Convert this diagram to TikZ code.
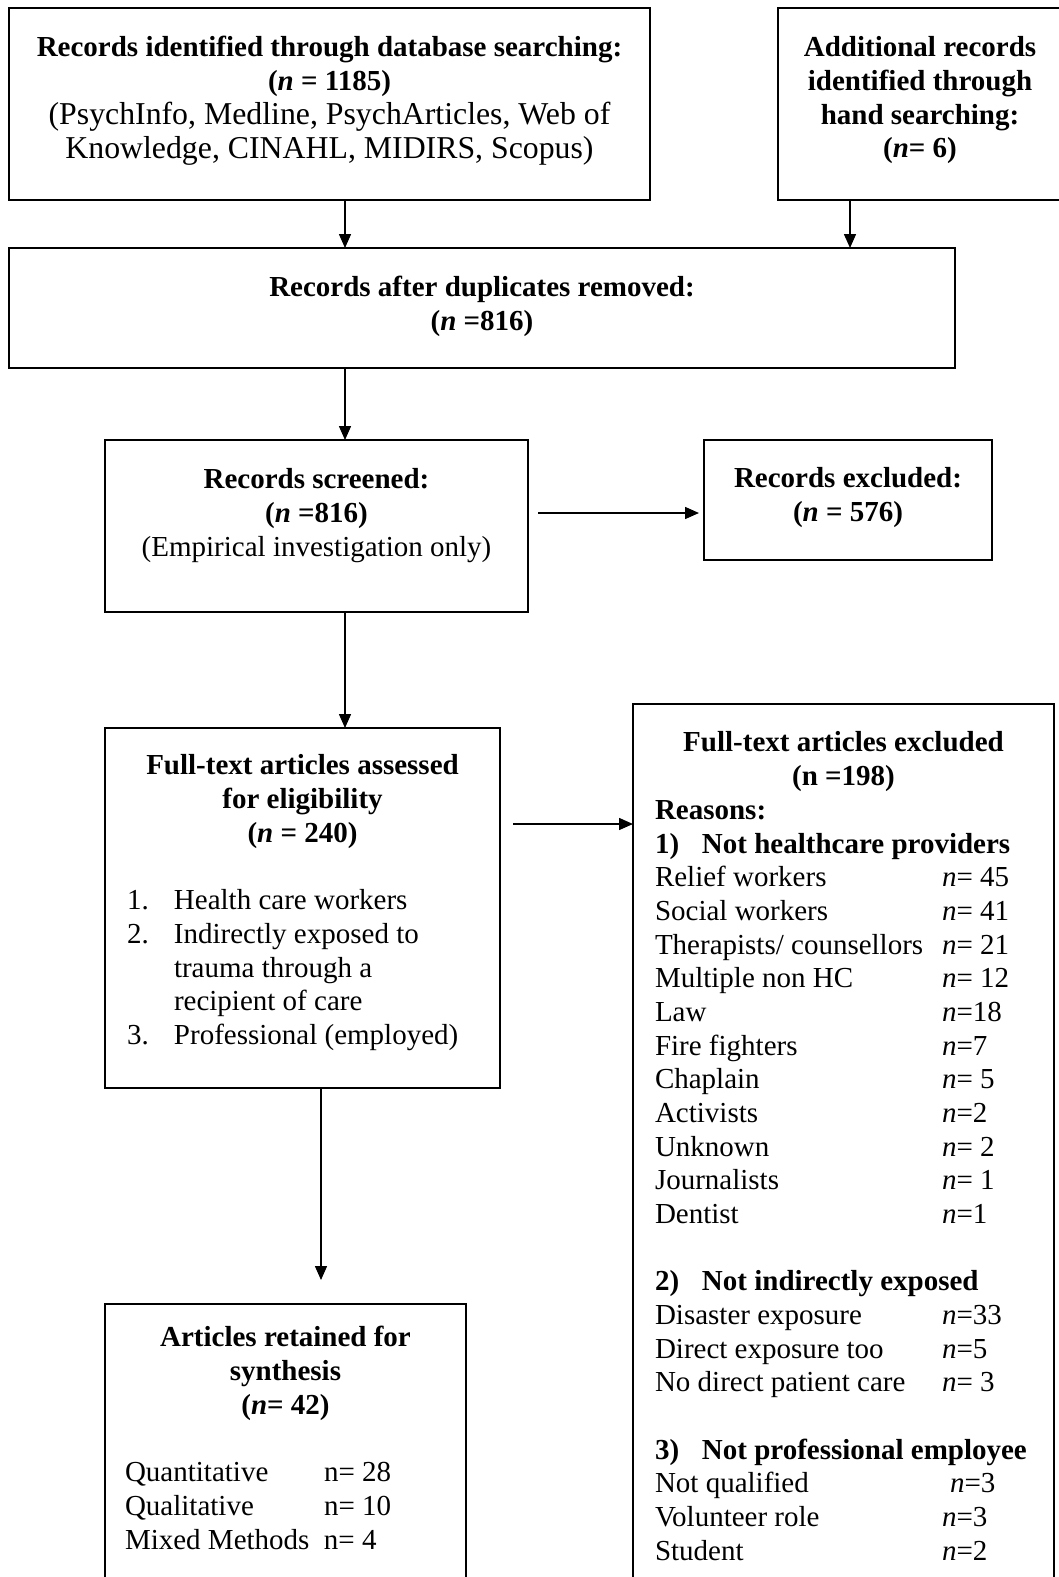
\documentclass[tikz,border=0pt]{standalone}
\usepackage{fontspec}
\setmainfont{Liberation Serif}
\usetikzlibrary{arrows.meta}
\newcommand\dgfont{\fontsize{29}{33.67}\selectfont}
\newcommand\dgbigfont{\fontsize{31.8}{34}\selectfont}
\tikzset{
  box/.style={draw=black, line width=1.8pt, inner sep=0pt, outer sep=0pt, anchor=north west, fill=none},
  txt/.style={inner sep=0pt, outer sep=0pt, font=\dgfont, anchor=north, align=center},
  tbl/.style={inner sep=0pt, outer sep=0pt, font=\dgfont, anchor=north west},
  arr/.style={line width=1.5pt, -{Triangle[length=14pt,width=12pt]}}
}
\begin{document}
\begin{tikzpicture}[x=1pt,y=-1pt]
\useasboundingbox (0,0) rectangle (1059,1577);
\clip (0,0) rectangle (1059,1577);
\fill[white] (0,0) rectangle (1059,1577);
% boxes
\node[box, minimum width=641pt, minimum height=192pt] (b1) at (9,8) {};
\node[box, minimum width=284pt, minimum height=192pt] (b2) at (778,8) {};
\node[box, minimum width=946pt, minimum height=120pt] (b3) at (9,248) {};
\node[box, minimum width=423pt, minimum height=172pt] (b4) at (105,440) {};
\node[box, minimum width=288pt, minimum height=120pt] (b5) at (704,440) {};
\node[box, minimum width=395pt, minimum height=360pt] (b6) at (105,728) {};
\node[box, minimum width=421pt, minimum height=950pt] (b7) at (633,704) {};
\node[box, minimum width=361pt, minimum height=400pt] (b8) at (105,1304) {};
% texts
\node[txt] (t1) at (329.5,33.4) {\strut\textbf{Records identified through database searching:}\\
  \textbf{(\textit{n} = 1185)}};
\node[txt, font=\dgbigfont] (t1b) at (329.5,100.5) {\strut(PsychInfo, Medline, PsychArticles, Web of\\
  Knowledge, CINAHL, MIDIRS, Scopus)};
\node[txt] (t2) at (920,33.4) {\strut\textbf{Additional records}\\
  \textbf{identified through}\\
  \textbf{hand searching:}\\
  \textbf{(\textit{n}= 6)}};
\node[txt] (t3) at (482,273.4) {\strut\textbf{Records after duplicates removed:}\\
  \textbf{(\textit{n} =816)}};
\node[txt] (t4) at (316.5,465.4) {\strut\textbf{Records screened:}\\
  \textbf{(\textit{n} =816)}\\
  (Empirical investigation only)};
\node[txt] (t5) at (848,464.4) {\strut\textbf{Records excluded:}\\
  \textbf{(\textit{n} = 576)}};
\node[txt] (t6) at (302.5,751.4) {\strut\textbf{Full-text articles assessed}\\
  \textbf{for eligibility}\\
  \textbf{(\textit{n} = 240)}};
\node[tbl] (l6) at (127,886.1) {\setlength\tabcolsep{0pt}%
  \begin{tabular}{@{}p{47pt}@{}l@{}}
  1. & Health care workers\\
  2. & Indirectly exposed to\\
     & trauma through a\\
     & recipient of care\\
  3. & Professional (employed)
  \end{tabular}};
\node[txt] (t7) at (843.5,728.4) {\strut\textbf{Full-text articles excluded}\\
  \textbf{(n =198)}};
\node[tbl] (l7) at (655,795.8) {\setlength\tabcolsep{0pt}%
  \begin{tabular}{@{}p{287pt}@{}l@{}}
  \multicolumn{2}{@{}l@{}}{\textbf{Reasons:}}\\
  \multicolumn{2}{@{}l@{}}{\textbf{\makebox[47pt][l]{1)}Not healthcare providers}}\\
  Relief workers & \textit{n}= 45\\
  Social workers & \textit{n}= 41\\
  Therapists/ counsellors & \textit{n}= 21\\
  Multiple non HC & \textit{n}= 12\\
  Law & \textit{n}=18\\
  Fire fighters & \textit{n}=7\\
  Chaplain & \textit{n}= 5\\
  Activists & \textit{n}=2\\
  Unknown & \textit{n}= 2\\
  Journalists & \textit{n}= 1\\
  Dentist & \textit{n}=1\\
  & \\
  \multicolumn{2}{@{}l@{}}{\textbf{\makebox[47pt][l]{2)}Not indirectly exposed}}\\
  Disaster exposure & \textit{n}=33\\
  Direct exposure too & \textit{n}=5\\
  No direct patient care & \textit{n}= 3\\
  & \\
  \multicolumn{2}{@{}l@{}}{\textbf{\makebox[47pt][l]{3)}Not professional employee}}\\
  Not qualified & \hspace{8pt}\textit{n}=3\\
  Volunteer role & \textit{n}=3\\
  Student & \textit{n}=2
  \end{tabular}};
\node[txt] (t8) at (285.5,1323.4) {\strut\textbf{Articles retained for}\\
  \textbf{synthesis}\\
  \textbf{(\textit{n}= 42)}};
\node[tbl] (l8) at (125,1458.1) {\setlength\tabcolsep{0pt}%
  \begin{tabular}{@{}p{199pt}@{}l@{}}
  Quantitative & n= 28\\
  Qualitative & n= 10\\
  Mixed Methods & n= 4
  \end{tabular}};
% connector helpers
\coordinate (xA) at (345,0);
\coordinate (xB) at (850,0);
\coordinate (xC) at (321,0);
\coordinate (yD) at (0,513);
\coordinate (yE) at (0,824);
% connectors
\draw[arr] (b1.south -| xA) -- (b3.north -| xA);
\draw[arr] (b2.south -| xB) -- (b3.north -| xB);
\draw[arr] (b3.south -| xA) -- (b4.north -| xA);
\draw[arr] ([xshift=10pt]b4.east |- yD) -- ([xshift=-5pt]b5.west |- yD);
\draw[arr] (b4.south -| xA) -- (b6.north -| xA);
\draw[arr] ([xshift=13pt]b6.east |- yE) -- (b7.west |- yE);
\draw[arr] (b6.south -| xC) -- ([yshift=24pt]b8.north -| xC);
\end{tikzpicture}
\end{document}
